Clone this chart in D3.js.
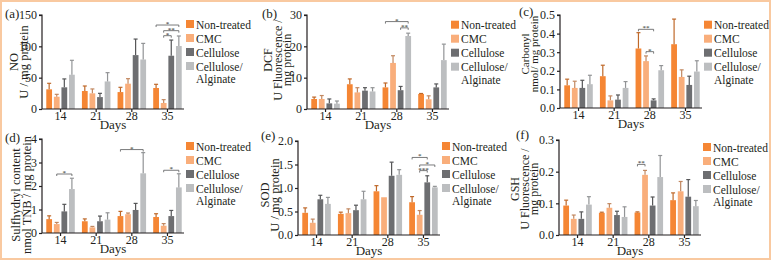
<!DOCTYPE html>
<html><head><meta charset="utf-8">
<script src="https://cdn.jsdelivr.net/npm/d3@7/dist/d3.min.js"></script>
<style>html,body{margin:0;padding:0;background:#fff;}svg{display:block;}svg text{font-family:"Liberation Serif","Times New Roman",serif !important;fill:#231f20;}</style>
</head><body><svg id="c" width="771" height="260"></svg>
<script>
// ---------- DATA ----------
const days = ["14","21","28","35"];
const seriesNames = ["Non-treated","CMC","Cellulose","Cellulose/Alginate"];

// values per day: [Non-treated, CMC, Cellulose, Cellulose/Alginate]
const noMean = [[31.4,19.6,34.6,54.7],[28.7,25,19,44],[27,40.4,86,79],[33.5,9.6,85,100.5]];
const noErr  = [[9.6,3.8,13.4,23],[8,7,6,14],[7.6,8,25.6,25.7],[5.9,5.3,25,16]];
const dcfMean = [[3.2,3.2,1.8,1.7],[7.9,5.3,5.85,5.6],[6.9,14.7,6,23.3],[4.8,3.1,6.9,15.6]];
const dcfErr  = [[0.6,1.1,1.4,0.85],[1.7,1.5,0.95,1.2],[1.4,2.3,1.2,0.9],[0.15,1.1,1.1,5.1]];
const carbMean = [[0.122,0.108,0.108,0.128],[0.171,0.041,0.045,0.108],[0.32,0.252,0.041,0.203],[0.343,0.167,0.124,0.196]];
const carbErr  = [[0.033,0.036,0.041,0.048],[0.059,0.024,0.025,0.034],[0.085,0.028,0.008,0.025],[0.135,0.038,0.047,0.058]];
const shMean = [[0.59,0.38,0.92,1.87],[0.5,0.24,0.5,0.57],[0.72,0.8,0.98,2.54],[0.68,0.31,0.72,1.94]];
const shErr  = [[0.14,0.07,0.3,0.46],[0.1,0.04,0.22,0.29],[0.2,0.05,0.28,0.88],[0.14,0.09,0.24,0.58]];
const sodMean = [[0.472,0.26,0.76,0.662],[0.45,0.465,0.528,0.76],[0.93,0.803,1.26,1.28],[0.697,0.43,1.12,1.014]];
const sodErr  = [[0.105,0.078,0.085,0.138],[0.036,0.091,0.106,0.17],[0.12,0.0,0.29,0.11],[0.12,0.09,0.14,0.021]];
const gshMean = [[0.093,0.051,0.051,0.096],[0.07,0.086,0.063,0.057],[0.071,0.19,0.093,0.183],[0.11,0.138,0.121,0.091]];
const gshErr  = [[0.017,0.012,0.022,0.025],[0.002,0.013,0.012,0.032],[0.002,0.014,0.027,0.068],[0.023,0.031,0.054,0.018]];

// y tick values
const noTicks = [0,50,100,150];
const dcfTicks = [0,10,20,30];
const carbTicks = [0,0.1,0.2,0.3,0.4,0.5];
const shTicks = [0,1,2,3,4];
const sodTicks = [0,0.5,1,1.5,2];
const gshTicks = [0,0.1,0.2,0.3];

// significance: [dayIndex, fromSeries, toSeries, yValue, label]
const noSig = [[3,0,3,134,"*"],[3,1,3,125,"**"],[3,1,2,117,"*"]];
const dcfSig = [[2,0,3,27.9,"*"],[2,2,3,25.9,"**"]];
const carbSig = [[2,0,2,0.423,"**"],[2,1,2,0.303,"*"]];
const shSig = [[0,1,3,2.51,"*"],[2,0,3,3.55,"*"],[3,1,3,2.67,"*"]];
const sodSig = [[3,0,2,1.65,"*"],[3,1,3,1.49,"*"],[3,1,2,1.37,"***"]];
const gshSig = [[2,0,1,0.223,"**"]];

// ---------- STYLE / LAYOUT ----------
const colors = ["#f58634","#f9ae7b","#6d6e71","#bcbec0"];
const panels = [
  {lab:"(a)", labX:5, labY:18, x0:42, yT:15, yB:109, max:150, mean:noMean, err:noErr, ticks:noTicks, fmt:d3.format("d"), sig:noSig,
   title:["NO","U / mg protein"], tx:[13.5,23.5], ty:62, tfs:12.5, ly:20},
  {lab:"(b)", labX:262, labY:18, x0:307, yT:15, yB:109, max:30, mean:dcfMean, err:dcfErr, ticks:dcfTicks, fmt:d3.format("d"), sig:dcfSig,
   title:["DCF","U Fluorescence /","mg protein"], tx:[268,277.5,287], ty:60, tfs:12, ly:20.7},
  {lab:"(c)", labX:519, labY:16, x0:560, yT:15, yB:108, max:0.5, mean:carbMean, err:carbErr, ticks:carbTicks, fmt:d3.format(".1f"), sig:carbSig,
   title:["Carbonyl","nmol/ mg protein"], tx:[525,534], ty:54, tfs:11, ly:20.7},
  {lab:"(d)", labX:5, labY:142, x0:42, yT:139, yB:233, max:4, mean:shMean, err:shErr, ticks:shTicks, fmt:d3.format("d"), sig:shSig,
   title:["Sulfhydryl content","nmol TNB / mg protein"], tx:[16,27], ty:195, tfs:12.5, ly:142},
  {lab:"(e)", labX:261, labY:140, x0:298, yT:141, yB:235, max:2, mean:sodMean, err:sodErr, ticks:sodTicks, fmt:d3.format(".1f"), sig:sodSig,
   title:["SOD","U / mg protein"], tx:[265,275], ty:195, tfs:12.5, ly:142},
  {lab:"(f)", labX:516, labY:139, x0:559, yT:140, yB:235, max:0.3, mean:gshMean, err:gshErr, ticks:gshTicks, fmt:d3.format(".1f"), sig:gshSig,
   title:["GSH","U Fluorescence /","mg protein"], tx:[515,524.5,534], ty:189, tfs:12, ly:143}
];

const svg = d3.select("#c");
svg.append("rect").attr("x",1).attr("y",1).attr("width",769).attr("height",258)
  .attr("fill","#fff").attr("stroke","#f9c9a0").attr("stroke-width",2);

panels.forEach(p => {
  const g = svg.append("g");
  const x = d3.scaleBand().domain(days).range([p.x0, p.x0+144]).paddingInner(0.2).paddingOuter(0.12);
  const xs = d3.scaleBand().domain(seriesNames).range([0, x.bandwidth()]).paddingInner(0.24);
  const y = d3.scaleLinear().domain([0,p.max]).range([p.yB,p.yT]);

  // bars
  days.forEach((d,di) => {
    seriesNames.forEach((s,si) => {
      const v = p.mean[di][si], e = p.err[di][si];
      const bx = x(d) + xs(s);
      g.append("rect").attr("x",bx).attr("y",y(v)).attr("width",xs.bandwidth()).attr("height",y(0)-y(v))
        .attr("fill",colors[si]);
      if (e > 0.0001) {
        const cx = bx + xs.bandwidth()/2;
        const ec = d3.color(colors[si]).darker(0.7);
        g.append("line").attr("x1",cx).attr("x2",cx).attr("y1",y(v)).attr("y2",y(v+e)).attr("stroke",ec).attr("stroke-width",1.2);
        g.append("line").attr("x1",cx-2).attr("x2",cx+2).attr("y1",y(v+e)).attr("y2",y(v+e)).attr("stroke",ec).attr("stroke-width",1.2);
      }
    });
  });

  // y axis
  const ya = d3.axisLeft(y).tickValues(p.ticks).tickFormat(p.fmt).tickSize(3).tickPadding(2);
  const yg = g.append("g").attr("transform",`translate(${p.x0},0)`).call(ya);
  yg.select(".domain").attr("stroke","#231f20").attr("stroke-width",1.2).attr("d",`M-3,${p.yT}H0V${p.yB}`);
  yg.selectAll(".tick line").attr("stroke","#231f20").attr("stroke-width",1.2);
  yg.selectAll("text").style("font-size","12px").attr("fill","#231f20");

  // x axis
  const xa = d3.axisBottom(x).tickSize(3).tickPadding(1);
  const xg = g.append("g").attr("transform",`translate(0,${p.yB})`).call(xa);
  xg.select(".domain").attr("stroke","#231f20").attr("stroke-width",1.2).attr("d",`M${p.x0},0H${p.x0+142}`);
  xg.selectAll(".tick line").attr("stroke","#231f20").attr("stroke-width",1.2);
  xg.selectAll("text").style("font-size","12px").attr("fill","#231f20").attr("y",11).attr("dy",null);

  g.append("text").attr("x",p.x0+71).attr("y",p.yB+19.5).attr("text-anchor","middle").style("font-size","13px").text("Days");

  // panel label
  g.append("text").attr("x",p.labX).attr("y",p.labY).style("font-size","13px").text(p.lab);

  // y title
  p.title.forEach((t,i) => {
    g.append("text").attr("transform",`translate(${p.tx[i]},${p.ty}) rotate(-90)`)
      .attr("text-anchor","middle").attr("dominant-baseline","central").style("font-size",p.tfs+"px").text(t);
  });

  // significance
  p.sig.forEach(([di,a,b,val,lab]) => {
    const xa1 = x(days[di]) + xs(seriesNames[a]) + xs.bandwidth()/2;
    const xb1 = x(days[di]) + xs(seriesNames[b]) + xs.bandwidth()/2;
    const yy = y(val);
    g.append("path").attr("d",`M${xa1},${yy+2}V${yy}H${xb1}V${yy+2}`).attr("fill","none").attr("stroke","#58595b").attr("stroke-width",0.8);
    g.append("text").attr("x",(xa1+xb1)/2).attr("y",yy+1).attr("text-anchor","middle").style("font-size","7px").attr("fill","#58595b").text(lab);
  });

  // legend
  const lx = p.x0 + 144, ly = p.ly;
  const leg = ["Non-treated","CMC","Cellulose","Cellulose/"];
  leg.forEach((t,i) => {
    const yy = ly + i*14;
    g.append("rect").attr("x",lx).attr("y",yy).attr("width",8).attr("height",8).attr("fill",colors[i]);
    g.append("text").attr("x",lx+10).attr("y",yy+4.5).attr("dominant-baseline","central").style("font-size","11.5px").text(t);
  });
  g.append("text").attr("x",lx+10).attr("y",ly+3*14+4.5+12.5).attr("dominant-baseline","central").style("font-size","11.5px").text("Alginate");
});
</script></body></html>
